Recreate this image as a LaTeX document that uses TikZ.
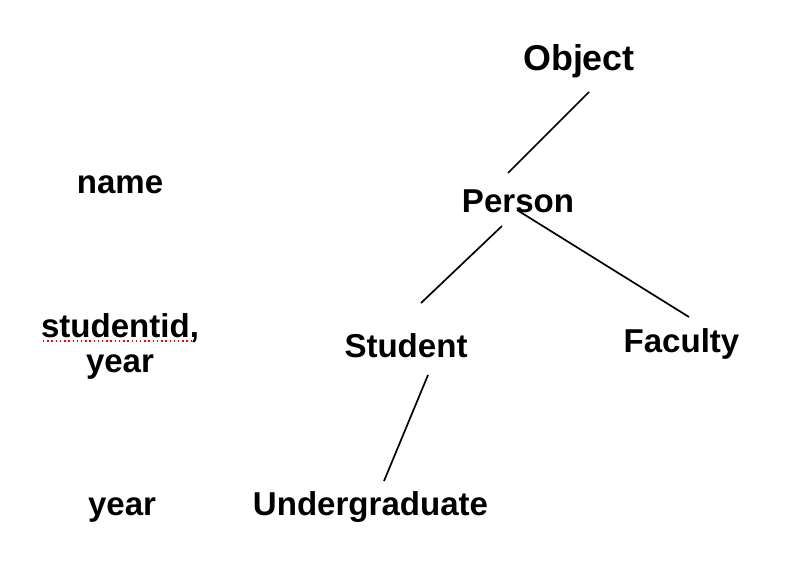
\documentclass[tikz,border=0pt]{standalone}
\usepackage{fontspec}
\setmainfont{Liberation Sans}
\usetikzlibrary{calc}

\begin{document}
\begin{tikzpicture}[x=0.025cm, y=-0.025cm,
    cls/.style={font=\fontsize{23.5}{28}\selectfont\bfseries, inner sep=0pt, anchor=base},
    attr/.style={font=\fontsize{23.5}{24.2}\selectfont\bfseries, inner sep=0pt, anchor=base, align=center},
    link/.style={line width=1.2pt, black}]
    \useasboundingbox (0,0) rectangle (794,586);

    % class hierarchy
    \node[cls, font=\fontsize{25.5}{30}\selectfont\bfseries] (obj) at (579, 70) {Object};
    \node[cls] (per) at (518, 212) {Person};
    \node[cls] (stu) at (406, 357) {Student};
    \node[cls] (fac) at (681.5, 352) {Faculty};
    \node[cls] (und) at (370.5, 515) {Undergraduate};

    % attributes on the left
    \node[attr] (nam) at (120, 193) {name};
    \node[attr] (sid) at (120, 372) {studentid,\\year};
    \node[attr] (yr)  at (122, 515) {year};
    \draw[red, dotted, line width=1pt] (43, 341) -- (193, 341);

    % connectors
    \draw[link] ($(obj.base)+(10,22)$) -- ($(per.base)+(-10,-39)$);
    \draw[link] ($(per.base)+(-16,14)$) -- ($(stu.base)+(15,-54)$);
    \draw[link] ($(per.base)+(-1,-2)$) -- ($(fac.base)+(7.5,-35)$);
    \draw[link] ($(stu.base)+(22,18)$) -- ($(und.base)+(13.5,-34)$);
\end{tikzpicture}
\end{document}
